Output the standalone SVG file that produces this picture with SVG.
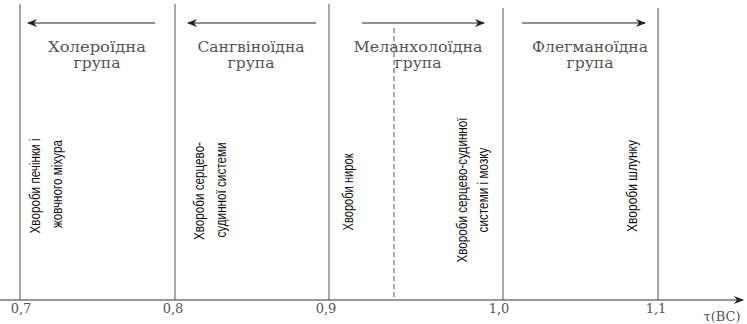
<svg xmlns="http://www.w3.org/2000/svg" width="747" height="324" viewBox="0 0 747 324">
<style>
.vl{stroke:#7a7a7a;stroke-width:1.3;fill:none}
.dl{stroke:#7a7a7a;stroke-width:1.3;stroke-dasharray:5,3;fill:none}
.ar{stroke:#222;stroke-width:1;fill:none}
.ax{stroke:#333;stroke-width:1.2;fill:none}
.t{font-family:"DejaVu Serif","Liberation Serif",serif;font-size:14.5px;fill:#555;text-anchor:middle}
.v{font-family:"Liberation Sans",Arial,sans-serif;font-size:15px;fill:#111;text-anchor:middle}
.n{font-family:"DejaVu Serif","Liberation Serif",serif;font-size:13px;fill:#555;text-anchor:middle}
</style>
<defs>
<marker id="ah" markerWidth="10" markerHeight="8" refX="9" refY="4" orient="auto" markerUnits="userSpaceOnUse">
<path d="M0,0 L10,4 L0,8 L3,4 Z" fill="#222"/>
</marker>
</defs>
<g id="connectors">
<line class="vl" x1="20" y1="4" x2="20" y2="300"/>
<line class="vl" x1="175" y1="4" x2="175" y2="300"/>
<line class="vl" x1="329" y1="4" x2="329" y2="300"/>
<line class="vl" x1="503" y1="8" x2="503" y2="300"/>
<line class="vl" x1="658" y1="8" x2="658" y2="300"/>
<line class="dl" x1="394" y1="28" x2="394" y2="300"/>
<line class="ar" x1="155" y1="23" x2="28" y2="23" marker-end="url(#ah)"/>
<line class="ar" x1="316" y1="23" x2="188" y2="23" marker-end="url(#ah)"/>
<line class="ar" x1="362" y1="23" x2="484" y2="23" marker-end="url(#ah)"/>
<line class="ar" x1="522" y1="23" x2="645" y2="23" marker-end="url(#ah)"/>
<line class="ax" x1="0" y1="300" x2="743" y2="300" marker-end="url(#ah)"/>
</g>
<g id="group1">
<text class="t" x="97" y="52" textLength="98" lengthAdjust="spacingAndGlyphs">Холероїдна</text>
<text class="t" x="97" y="68" textLength="47" lengthAdjust="spacingAndGlyphs">група</text>
</g>
<g id="group2">
<text class="t" x="251" y="52" textLength="107" lengthAdjust="spacingAndGlyphs">Сангвіноїдна</text>
<text class="t" x="251" y="68" textLength="47" lengthAdjust="spacingAndGlyphs">група</text>
</g>
<g id="group3">
<text class="t" x="418" y="52" textLength="129" lengthAdjust="spacingAndGlyphs">Меланхолоїдна</text>
<text class="t" x="418" y="68" textLength="47" lengthAdjust="spacingAndGlyphs">група</text>
</g>
<g id="group4">
<text class="t" x="590" y="52" textLength="116" lengthAdjust="spacingAndGlyphs">Флегманоїдна</text>
<text class="t" x="590" y="68" textLength="47" lengthAdjust="spacingAndGlyphs">група</text>
</g>
<g id="disease1">
<text class="v" transform="translate(40,186) rotate(-90)" textLength="95" lengthAdjust="spacingAndGlyphs">Хвороби печінки і</text>
<text class="v" transform="translate(62,184) rotate(-90)" textLength="88" lengthAdjust="spacingAndGlyphs">жовчного міхура</text>
</g>
<g id="disease2">
<text class="v" transform="translate(204,191) rotate(-90)" textLength="98" lengthAdjust="spacingAndGlyphs">Хвороби серцево-</text>
<text class="v" transform="translate(226,190) rotate(-90)" textLength="95" lengthAdjust="spacingAndGlyphs">судинної системи</text>
</g>
<g id="disease3">
<text class="v" transform="translate(353,192) rotate(-90)" textLength="77" lengthAdjust="spacingAndGlyphs">Хвороби нирок</text>
</g>
<g id="disease4">
<text class="v" transform="translate(467,190) rotate(-90)" textLength="145" lengthAdjust="spacingAndGlyphs">Хвороби серцево-судинної</text>
<text class="v" transform="translate(488,190) rotate(-90)" textLength="85" lengthAdjust="spacingAndGlyphs">системи і мозку</text>
</g>
<g id="disease5">
<text class="v" transform="translate(637,186) rotate(-90)" textLength="92" lengthAdjust="spacingAndGlyphs">Хвороби шлунку</text>
</g>
<g id="axis-labels">
<text class="n" x="21" y="313">0,7</text>
<text class="n" x="173" y="313">0,8</text>
<text class="n" x="326" y="313">0,9</text>
<text class="n" x="499" y="313">1,0</text>
<text class="n" x="656" y="313">1,1</text>
<text class="n" x="722" y="321">τ(BC)</text>
</g>
</svg>
